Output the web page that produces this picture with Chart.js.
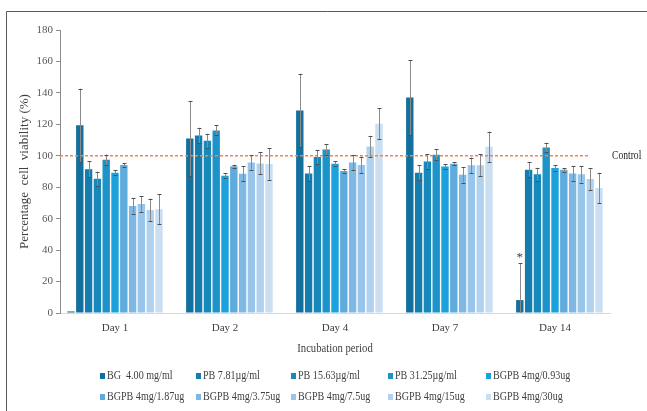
<!DOCTYPE html>
<html>
<head>
<meta charset="utf-8">
<script src="https://cdn.jsdelivr.net/npm/chart.js@4"></script>
<style>
  html, body { margin: 0; padding: 0; background: #fff; }
  #wrap { position: relative; width: 647px; height: 411px; }
</style>
</head>
<body>
<div id="wrap"><canvas id="c" width="647" height="411"></canvas></div>
<script>
// Incubation periods
const days = ['Day 1', 'Day 2', 'Day 4', 'Day 7', 'Day 14'];

// Series names (legend order)
const seriesNames = [
  'BG  4.00 mg/ml', 'PB 7.81\u00b5g/ml', 'PB 15.63\u00b5g/ml', 'PB 31.25\u00b5g/ml', 'BGPB 4mg/0.93ug',
  'BGPB 4mg/1.87ug', 'BGPB 4mg/3.75ug', 'BGPB 4mg/7.5ug', 'BGPB 4mg/15ug', 'BGPB 4mg/30ug'
];

// Unlabelled leading series (only present at Day 1)
const blank = [1, null, null, null, null];

// Mean cell viability (%) per series
const bg4      = [119.4, 111.0, 128.8, 137.0, 8.2];
const pb781    = [91.5, 112.9, 88.8, 89.2, 91.1];
const pb1563   = [85.4, 109.5, 99.2, 96.4, 88.2];
const pb3125   = [97.5, 116.1, 104.0, 100.6, 105.3];
const bgpb093  = [89.2, 87.3, 94.9, 93.2, 92.2];
const bgpb187  = [94.1, 93.4, 90.3, 94.9, 91.1];
const bgpb375  = [68.1, 88.6, 95.8, 87.9, 88.8];
const bgpb75   = [69.3, 95.8, 94.1, 93.9, 88.2];
const bgpb15   = [65.5, 95.1, 105.9, 93.9, 85.2];
const bgpb30   = [66.0, 94.7, 120.3, 105.7, 79.5];

// Standard deviations
const bg4Err     = [23.3, 24.0, 23.4, 23.9, 23.5];
const pb781Err   = [5.0, 4.9, 4.6, 4.7, 4.7];
const pb1563Err  = [4.5, 4.5, 4.4, 4.7, 4.2];
const pb3125Err  = [3.3, 3.2, 3.2, 3.4, 3.0];
const bgpb093Err = [1.7, 1.5, 1.7, 1.3, 1.7];
const bgpb187Err = [1.0, 0.9, 1.0, 0.9, 1.1];
const bgpb375Err = [4.9, 4.8, 4.8, 4.9, 4.6];
const bgpb75Err  = [5.0, 4.6, 5.0, 5.0, 5.2];
const bgpb15Err  = [7.2, 7.0, 6.8, 7.0, 7.0];
const bgpb30Err  = [9.7, 10.0, 9.9, 9.7, 9.7];

// Control reference level and significance marker
const controlLevel = 100;
const significance = [{ series: 0, day: 4, value: 37, mark: '*' }];

// Y axis range
const yMin = 0, yMax = 180, yStep = 20;

const seriesValues = [bg4, pb781, pb1563, pb3125, bgpb093, bgpb187, bgpb375, bgpb75, bgpb15, bgpb30];
const seriesErrors = [bg4Err, pb781Err, pb1563Err, pb3125Err, bgpb093Err, bgpb187Err, bgpb375Err, bgpb75Err, bgpb15Err, bgpb30Err];
const seriesColors = ['#11709d', '#147dad', '#1888ba', '#1c93c9', '#1ba2dc', '#5eabdc', '#7fb8e3', '#98c5e9', '#b1d2ee', '#cbdff3'];

const SERIF = '"Liberation Serif", "Times New Roman", serif';

const datasets = [{
  label: '', data: blank, backgroundColor: '#1d6e92', errors: null
}].concat(seriesNames.map((name, i) => ({
  label: name, data: seriesValues[i], backgroundColor: seriesColors[i], errors: seriesErrors[i]
})));

// Narrow (horizontally condensed) text helper
function narrowText(ctx, text, x, y, align, squeeze) {
  ctx.save();
  ctx.translate(x, y);
  ctx.scale(squeeze, 1);
  ctx.textAlign = align;
  ctx.fillText(text, 0, 0);
  ctx.restore();
}

const decorations = {
  id: 'decorations',
  afterDatasetsDraw(chart) {
    const { ctx, chartArea } = chart;
    const xs = chart.scales.x, ys = chart.scales.y;

    // Control line
    const yc = ys.getPixelForValue(controlLevel);
    ctx.save();
    ctx.strokeStyle = '#f0884a';
    ctx.lineWidth = 1.5;
    ctx.setLineDash([3, 2]);
    ctx.beginPath();
    ctx.moveTo(chartArea.left, yc);
    ctx.lineTo(xs.getPixelForValue(4.3), yc);
    ctx.stroke();
    ctx.restore();

    // Error bars
    chart.data.datasets.forEach((ds, di) => {
      if (!ds.errors) return;
      const meta = chart.getDatasetMeta(di);
      meta.data.forEach((bar, i) => {
        const v = ds.data[i], e = ds.errors[i];
        if (v == null || e == null) return;
        const x = Math.round(bar.x) + 0.5;
        const yt = ys.getPixelForValue(v + e);
        const yb = ys.getPixelForValue(Math.max(v - e, 0));
        ctx.save();
        ctx.strokeStyle = '#8a8a8a';
        ctx.lineWidth = 1;
        ctx.beginPath();
        ctx.moveTo(x, yt); ctx.lineTo(x, yb);
        ctx.stroke();
        ctx.strokeStyle = '#505050';
        ctx.beginPath();
        ctx.moveTo(x - 2, Math.round(yt) + 0.5); ctx.lineTo(x + 2, Math.round(yt) + 0.5);
        if (v - e > 0) { ctx.moveTo(x - 2, Math.round(yb) + 0.5); ctx.lineTo(x + 2, Math.round(yb) + 0.5); }
        ctx.stroke();
        ctx.restore();
      });
    });

    // Significance markers
    significance.forEach(s => {
      const bar = chart.getDatasetMeta(s.series + 1).data[s.day];
      ctx.save();
      ctx.fillStyle = '#404040';
      ctx.font = '13px ' + SERIF;
      ctx.textAlign = 'center';
      ctx.textBaseline = 'middle';
      ctx.fillText(s.mark, bar.x, ys.getPixelForValue(s.value) + 3);
      ctx.restore();
    });

    // Control label
    ctx.save();
    ctx.fillStyle = '#262626';
    ctx.font = '12px ' + SERIF;
    ctx.textBaseline = 'middle';
    narrowText(ctx, 'Control', chartArea.right + 2, yc, 'left', 0.8);
    ctx.restore();
  },
  afterDraw(chart) {
    const { ctx, chartArea } = chart;
    ctx.save();
    ctx.fillStyle = '#404040';
    ctx.textBaseline = 'middle';

    // Axis titles
    ctx.font = '13px ' + SERIF;
    narrowText(ctx, 'Incubation period', (chartArea.left + chartArea.right) / 2, 349, 'center', 0.82);
    ctx.save();
    ctx.translate(25, (chartArea.top + chartArea.bottom) / 2);
    ctx.rotate(-Math.PI / 2);
    ctx.textAlign = 'center';
    ctx.fillText('Percentage  cell  viability (%)', 0, 0);
    ctx.restore();

    // Legend, two rows of five
    const cols = [100, 196, 291, 388, 486];
    const rows = [376, 397];
    ctx.font = '12px ' + SERIF;
    seriesNames.forEach((name, i) => {
      const cx = cols[i % 5], cy = rows[Math.floor(i / 5)];
      ctx.fillStyle = seriesColors[i];
      ctx.fillRect(cx, cy - 3, 5, 6);
      ctx.fillStyle = '#404040';
      narrowText(ctx, name, cx + 7, cy, 'left', 0.84);
    });

    // Outer frame
    ctx.strokeStyle = '#595959';
    ctx.lineWidth = 1;
    ctx.beginPath();
    ctx.moveTo(6.5, 420); ctx.lineTo(6.5, 11.5); ctx.lineTo(660, 11.5);
    ctx.stroke();
    ctx.restore();
  }
};

new Chart(document.getElementById('c'), {
  type: 'bar',
  data: { labels: days, datasets },
  plugins: [decorations],
  options: {
    responsive: false,
    animation: false,
    layout: { padding: { top: 30, right: 37, bottom: 0, left: 0 } },
    datasets: { bar: { categoryPercentage: 0.88, barPercentage: 0.84, borderWidth: 0 } },
    plugins: { legend: { display: false }, tooltip: { enabled: false } },
    scales: {
      x: {
        grid: { display: false },
        border: { color: '#d9d9d9', width: 1 },
        ticks: { font: { family: SERIF, size: 11 }, color: '#404040', padding: 1 },
        afterFit(s) { s.height = 98; }
      },
      y: {
        min: yMin, max: yMax,
        ticks: { stepSize: yStep, font: { family: SERIF, size: 11 }, color: '#595959', padding: 3 },
        grid: { display: true, drawOnChartArea: false, drawTicks: true, tickLength: 4, color: '#8c8c8c' },
        border: { color: '#8c8c8c', width: 1 },
        afterFit(s) { s.width = 60; }
      }
    }
  }
});
</script>
</body>
</html>
